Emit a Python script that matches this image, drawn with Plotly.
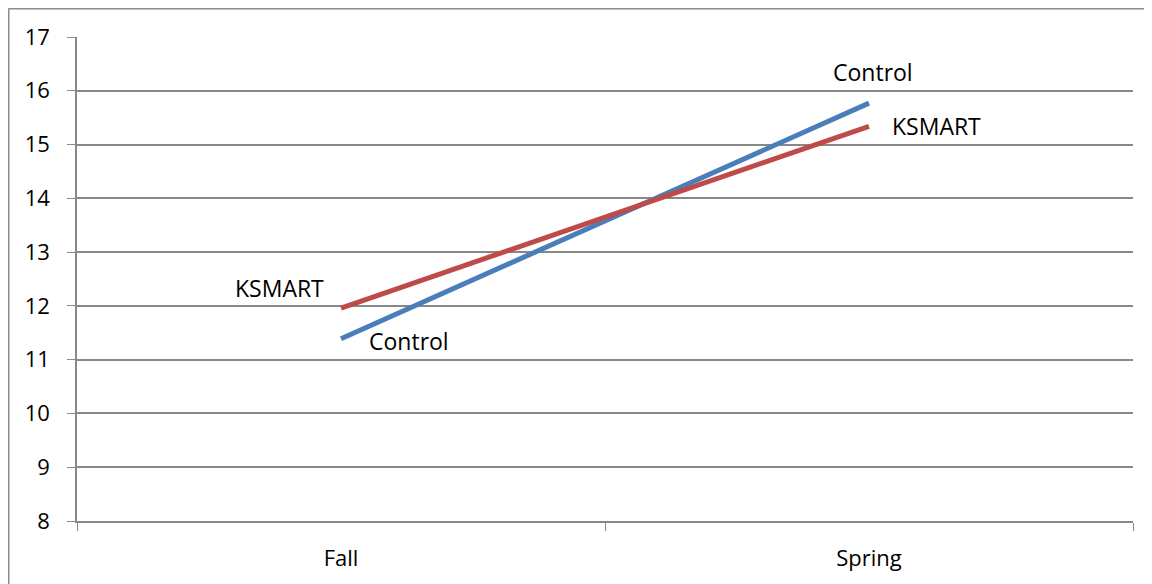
import plotly.graph_objects as go

categories = ["Fall", "Spring"]
control = [11.39, 15.77]
ksmart = [11.96, 15.34]
y_ticks = [8, 9, 10, 11, 12, 13, 14, 15, 16, 17]

W, H = 1152, 584
L, R, T, B = 69, 27, 29, 71
pw, ph = W - L - R, H - T - B

fig = go.Figure()
fig.add_trace(go.Scatter(x=categories, y=control, mode="lines", name="Control",
                         line=dict(color="#4A7EBB", width=5), showlegend=False))
fig.add_trace(go.Scatter(x=categories, y=ksmart, mode="lines", name="KSMART",
                         line=dict(color="#BE4B48", width=5), showlegend=False))

font = dict(family="Open Sans", size=23, color="#000000")
ann = [
    dict(x=categories[0], y=ksmart[0], text="KSMART", xanchor="right", yanchor="middle", xshift=-15, yshift=20),
    dict(x=categories[0], y=control[0], text="Control", xanchor="left", yanchor="middle", xshift=26, yshift=-2),
    dict(x=categories[1], y=control[1], text="Control", xanchor="center", yanchor="middle", xshift=4, yshift=31),
    dict(x=categories[1], y=ksmart[1], text="KSMART", xanchor="left", yanchor="middle", xshift=21, yshift=0),
]
for a in ann:
    fig.add_annotation(**a, showarrow=False, font=font)

# outer chart border (top and left visible)
bx = (0.5 - L) / pw
by = (H - B - 0.5) / ph
fig.add_shape(type="line", xref="paper", yref="paper", x0=bx, x1=bx, y0=by, y1=-0.5,
              line=dict(color="#8c8c8c", width=2))
fig.add_shape(type="line", xref="paper", yref="paper", x0=bx, x1=1.5, y0=by, y1=by,
              line=dict(color="#8c8c8c", width=2))

tickfont = dict(family="Open Sans", size=22, color="#000")
fig.update_layout(
    width=W, height=H,
    margin=dict(l=L, r=R, t=T, b=B),
    plot_bgcolor="white", paper_bgcolor="white",
    xaxis=dict(type="category", tickson="boundaries", ticks="outside", ticklen=8,
               tickcolor="#888888", showline=True, linecolor="#888888", linewidth=1.5,
               showgrid=False, tickfont=tickfont,
               ticklabelstandoff=17, range=[-0.5, 1.5]),
    yaxis=dict(range=[8, 17], tickvals=y_ticks, ticks="outside", ticklen=8,
               tickcolor="#888888", showline=True, linecolor="#888888", linewidth=1.5,
               showgrid=True, gridcolor="#888888", gridwidth=1.5, zeroline=False,
               tickfont=tickfont, ticklabelstandoff=13),
)

fig.write_html("out.html")
